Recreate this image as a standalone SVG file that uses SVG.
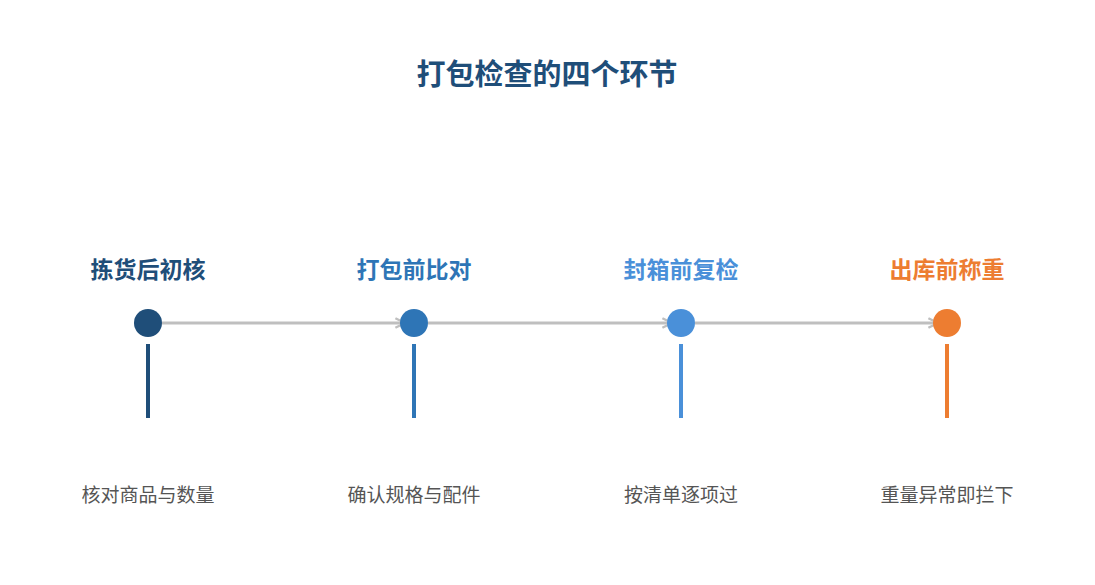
<svg xmlns="http://www.w3.org/2000/svg" width="1095" height="585" viewBox="0 0 1095 585">
<defs>
<style>
text{font-family:"Noto Sans CJK SC","Liberation Sans",sans-serif;text-anchor:middle}
.title{font-size:29px;font-weight:bold;fill:#1f4e79}
.lbl{font-size:23px;font-weight:bold}
.desc{font-size:19px;fill:#555555}
.conn{stroke:#bfbfbf;stroke-width:3;fill:none}
.bar{stroke-width:4}
</style>
<marker id="arr" viewBox="0 0 10 10" refX="9" refY="5" markerWidth="4" markerHeight="4" orient="auto" markerUnits="strokeWidth">
<path d="M1,1 L9,5 L1,9" fill="none" stroke="#bfbfbf" stroke-width="2"/>
</marker>
</defs>
<rect width="1095" height="585" fill="#ffffff"/>
<text class="title" x="547" y="85">打包检查的四个环节</text>
<g id="connectors">
<line class="conn" x1="162" y1="323" x2="405" y2="323" marker-end="url(#arr)"/>
<line class="conn" x1="428" y1="323" x2="672" y2="323" marker-end="url(#arr)"/>
<line class="conn" x1="695" y1="323" x2="938" y2="323" marker-end="url(#arr)"/>
</g>
<g id="node1">
<text class="lbl" x="148" y="278" fill="#1f4e79">拣货后初核</text>
<circle cx="148" cy="323" r="14" fill="#1f4e79"/>
<line class="bar" x1="148" y1="344" x2="148" y2="418" stroke="#1f4e79"/>
<text class="desc" x="148" y="502">核对商品与数量</text>
</g>
<g id="node2">
<text class="lbl" x="414" y="278" fill="#2e75b6">打包前比对</text>
<circle cx="414" cy="323" r="14" fill="#2e75b6"/>
<line class="bar" x1="414" y1="344" x2="414" y2="418" stroke="#2e75b6"/>
<text class="desc" x="414" y="502">确认规格与配件</text>
</g>
<g id="node3">
<text class="lbl" x="681" y="278" fill="#4a90d9">封箱前复检</text>
<circle cx="681" cy="323" r="14" fill="#4a90d9"/>
<line class="bar" x1="681" y1="344" x2="681" y2="418" stroke="#4a90d9"/>
<text class="desc" x="681" y="502">按清单逐项过</text>
</g>
<g id="node4">
<text class="lbl" x="947" y="278" fill="#ed7d31">出库前称重</text>
<circle cx="947" cy="323" r="14" fill="#ed7d31"/>
<line class="bar" x1="947" y1="344" x2="947" y2="418" stroke="#ed7d31"/>
<text class="desc" x="947" y="502">重量异常即拦下</text>
</g>
</svg>
